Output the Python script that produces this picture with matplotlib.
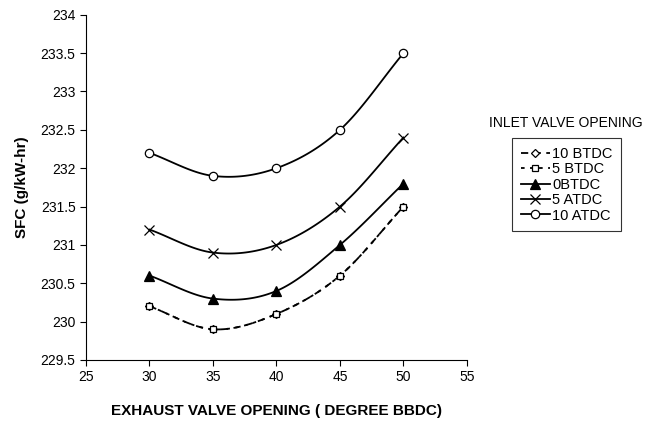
import numpy as np
import matplotlib.pyplot as plt

plt.rcParams['font.family'] = ['Liberation Sans', 'DejaVu Sans']

# Data
evo = [30, 35, 40, 45, 50]
sfc_10btdc = [230.2, 229.9, 230.1, 230.6, 231.5]
sfc_5btdc = [230.2, 229.9, 230.1, 230.6, 231.5]
sfc_0btdc = [230.6, 230.3, 230.4, 231.0, 231.8]
sfc_5atdc = [231.2, 230.9, 231.0, 231.5, 232.4]
sfc_10atdc = [232.2, 231.9, 232.0, 232.5, 233.5]
labels = ['10 BTDC', '5 BTDC', '0BTDC', '5 ATDC', '10 ATDC']


def smooth(x, y, n=30):
    # Excel style smoothed line (Catmull-Rom through the points)
    x = np.asarray(x, float)
    y = np.asarray(y, float)
    px = np.concatenate([[2 * x[0] - x[1]], x, [2 * x[-1] - x[-2]]])
    py = np.concatenate([[2 * y[0] - y[1]], y, [2 * y[-1] - y[-2]]])
    xs, ys = [], []
    t = np.linspace(0, 1, n)
    for i in range(1, len(px) - 2):
        for p, out in ((px, xs), (py, ys)):
            p0, p1, p2, p3 = p[i - 1], p[i], p[i + 1], p[i + 2]
            out.extend(0.5 * (2 * p1 + (-p0 + p2) * t
                              + (2 * p0 - 5 * p1 + 4 * p2 - p3) * t ** 2
                              + (-p0 + 3 * p1 - 3 * p2 + p3) * t ** 3))
    return xs, ys


fig = plt.figure(figsize=(6.49, 4.22), dpi=100)
ax = fig.add_axes([0.1325, 0.147, 0.587, 0.818])

series = [sfc_10btdc, sfc_5btdc, sfc_0btdc, sfc_5atdc, sfc_10atdc]
styles = [
    dict(ls=(0, (4, 3)), marker='D', mfc='white', ms=4.5),
    dict(ls=(0, (2, 3)), marker='s', mfc='white', ms=4.5),
    dict(ls='-', marker='^', mfc='black', ms=6.5),
    dict(ls='-', marker='x', mfc='black', ms=6.5),
    dict(ls='-', marker='o', mfc='white', ms=6),
]
handles = []
for y, lab, st in zip(series, labels, styles):
    sx, sy = smooth(evo, y)
    ax.plot(sx, sy, color='black', lw=1.3, ls=st['ls'])
    ax.plot(evo, y, ls='none', marker=st['marker'], mfc=st['mfc'],
            mec='black', ms=st['ms'], mew=0.9)
    h, = ax.plot([], [], color='black', lw=1.3, ls=st['ls'],
                 marker=st['marker'], mfc=st['mfc'], mec='black',
                 ms=st['ms'], mew=0.9)
    handles.append(h)

ax.set_xlim(25, 55)
ax.set_ylim(229.5, 234)
ax.set_xticks([25, 30, 35, 40, 45, 50, 55])
ax.set_yticks(np.arange(229.5, 234.01, 0.5))
ax.set_yticklabels(['229.5', '230', '230.5', '231', '231.5', '232',
                    '232.5', '233', '233.5', '234'])
ax.tick_params(direction='out', labelsize=10, length=4)
for s in ['top', 'right']:
    ax.spines[s].set_visible(False)

ax.set_xlabel('EXHAUST VALVE OPENING ( DEGREE BBDC)', fontsize=11,
              fontweight='bold', labelpad=14)
ax.set_ylabel('SFC (g/kW-hr)', fontsize=11, fontweight='bold', labelpad=8)

fig.text(0.754, 0.70, 'INLET VALVE OPENING', fontsize=10)
leg = fig.legend(handles=handles, labels=labels, loc='upper left',
                 bbox_to_anchor=(0.789, 0.673), fontsize=10.5, frameon=True,
                 fancybox=False, edgecolor='black', handlelength=2.0,
                 handletextpad=0.15, labelspacing=0.1, borderpad=0.6,
                 borderaxespad=0)
leg.get_frame().set_linewidth(0.8)

fig.savefig('out.png', dpi=100)
